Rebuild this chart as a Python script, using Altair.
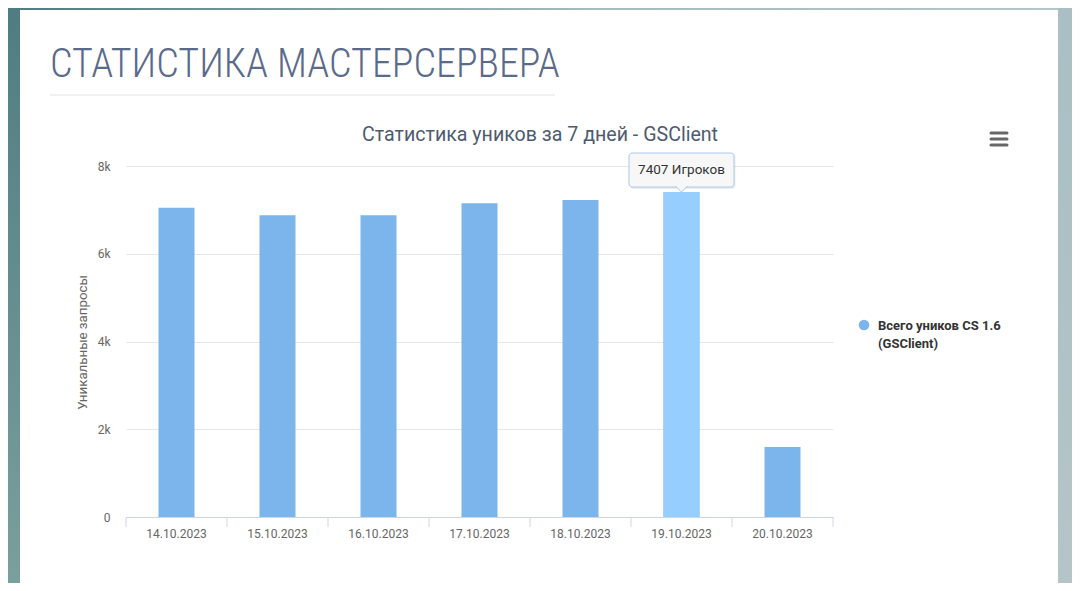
import altair as alt
import pandas as pd

# ---- data ----
dates = ["14.10.2023", "15.10.2023", "16.10.2023", "17.10.2023",
         "18.10.2023", "19.10.2023", "20.10.2023"]
values = [7050, 6880, 6880, 7150, 7225, 7407, 1595]
highlight_date = "19.10.2023"
tooltip_suffix = " Игроков"
y_ticks = [0, 2000, 4000, 6000, 8000]
legend_lines = ["Всего уников CS 1.6", "(GSClient)"]
page_heading = "СТАТИСТИКА МАСТЕРСЕРВЕРА"
chart_title = "Статистика уников за 7 дней - GSClient"
y_title = "Уникальные запросы"

df = pd.DataFrame({"date": dates, "value": values})
one = pd.DataFrame({"k": [0]})

W, H = 707, 351
BAR = "#7cb5ec"
HOVER = "#95ceff"
FONT = "Roboto"

xenc = alt.X("date:N", sort=dates, title=None,
             scale=alt.Scale(paddingInner=0, paddingOuter=0),
             axis=alt.Axis(labelAngle=0, labelColor="#666666", labelFontSize=12,
                           labelFont=FONT, ticks=False, tickSize=0, labelPadding=11,
                           domainColor="#ccd6eb", domainWidth=1, grid=False,
                           zindex=1))
yenc = alt.Y("value:Q", scale=alt.Scale(domain=[0, 8000], nice=False),
             axis=alt.Axis(values=y_ticks,
                           labelExpr="datum.value == 0 ? '0' : (datum.value / 1000) + 'k'",
                           labelColor="#666666",
                           labelFontSize=12, labelFont=FONT, ticks=False,
                           tickSize=0, labelPadding=16, domain=False,
                           grid=True, gridColor="#e6e6e6", gridWidth=1,
                           title=y_title, titleColor="#666666",
                           titleFontSize=13.3, titleFontWeight="normal",
                           titleFont=FONT, titleX=-44, titleY=176,
                           titleAngle=270, titleAlign="center",
                           titleBaseline="middle"))

base = alt.Chart(df)

bars = base.mark_bar(size=36, color=BAR).encode(x=xenc, y=yenc)

hl = base.transform_filter(alt.datum.date == highlight_date)
hl_bar = hl.mark_bar(size=36, color=HOVER).encode(
    x=alt.X("date:N", sort=dates), y="value:Q")

tip_shadow = hl.mark_bar(width=105, color="#000000", opacity=0.07,
                         cornerRadius=3, yOffset=-38, y2Offset=-3, xOffset=1.5
                         ).encode(x=alt.X("date:N", sort=dates), y="value:Q",
                                  y2="value:Q")
tip_box = hl.mark_bar(width=105, fill="#f7f7f7", stroke="#a9c9ea",
                      strokeWidth=1, cornerRadius=3, yOffset=-39, y2Offset=-5,
                      opacity=1).encode(x=alt.X("date:N", sort=dates),
                                        y="value:Q", y2="value:Q")
tip_notch = hl.mark_point(shape="M-1,-0.5L0,0.5L1,-0.5", size=144, filled=True,
                          fill="#f7f7f7", stroke="#a9c9ea", strokeWidth=1,
                          opacity=1, yOffset=-3).encode(
    x=alt.X("date:N", sort=dates), y="value:Q")
tip_text = hl.transform_calculate(
    label="datum.value + '" + tooltip_suffix + "'"
).mark_text(fontSize=13.5, font=FONT, color="#333333", dy=-22,
            baseline="middle").encode(x=alt.X("date:N", sort=dates),
                                      y="value:Q", text="label:N")

# x tick marks at category boundaries
ticks = base.mark_rule(color="#ccd6eb", strokeWidth=1).encode(
    x=alt.X("date:N", sort=dates, bandPosition=0),
    y=alt.value(H), y2=alt.value(H + 10))
end_tick = alt.Chart(one).mark_rule(color="#ccd6eb", strokeWidth=1).encode(
    x=alt.value(W), y=alt.value(H), y2=alt.value(H + 10))

# page decoration: teal gradient border strips
grad_h = alt.LinearGradient(gradient="linear", x1=0, y1=0, x2=1, y2=0,
                            stops=[alt.GradientStop(offset=0, color="#4f7b80"),
                                   alt.GradientStop(offset=0.55, color="#a6bbbe"),
                                   alt.GradientStop(offset=1, color="#b3c6c9")])
grad_l = alt.LinearGradient(gradient="linear", x1=0, y1=0, x2=0, y2=1,
                            stops=[alt.GradientStop(offset=0, color="#507c81"),
                                   alt.GradientStop(offset=1, color="#7a9f9d")])
grad_r = alt.LinearGradient(gradient="linear", x1=0, y1=0, x2=0, y2=1,
                            stops=[alt.GradientStop(offset=0, color="#a9bfc3"),
                                   alt.GradientStop(offset=1, color="#b3c5c7")])
strip_top = alt.Chart(one).mark_rect(color=grad_h).encode(
    x=alt.value(-118), x2=alt.value(946), y=alt.value(-158), y2=alt.value(-156))
strip_left = alt.Chart(one).mark_rect(color=grad_l).encode(
    x=alt.value(-118), x2=alt.value(-106), y=alt.value(-158), y2=alt.value(417))
strip_right = alt.Chart(one).mark_rect(color=grad_r).encode(
    x=alt.value(932), x2=alt.value(946), y=alt.value(-158), y2=alt.value(417))

heading = alt.Chart(one).mark_text(
    text=page_heading,
    font="Roboto Condensed, Liberation Sans Narrow, DejaVu Sans Condensed, Roboto",
    fontSize=40, fontWeight=300, color="#5a6a8a", align="left",
    baseline="alphabetic").encode(x=alt.value(-76), y=alt.value(-89))
separator = alt.Chart(one).mark_rule(color="#ececec", strokeWidth=1.5).encode(
    x=alt.value(-76), x2=alt.value(429), y=alt.value(-71))

title = alt.Chart(one).mark_text(
    text=chart_title, font=FONT, fontSize=19.6, color="#4d5b70", align="center",
    baseline="alphabetic").encode(x=alt.value(414), y=alt.value(-25))

menu = [alt.Chart(one).mark_rule(color="#666666", strokeWidth=3,
                                 strokeCap="round").encode(
    x=alt.value(865), x2=alt.value(881), y=alt.value(yy))
    for yy in (-33, -27, -21)]

legend_dot = alt.Chart(one).mark_point(shape="circle", size=113, filled=True,
                                       color=BAR, opacity=1).encode(
    x=alt.value(738), y=alt.value(159))
legend_text = alt.Chart(one).mark_text(
    text=legend_lines, font=FONT, fontSize=13, fontWeight="bold",
    color="#333333", align="left", baseline="alphabetic", lineHeight=18
).encode(x=alt.value(752), y=alt.value(164))

chart = alt.layer(
    strip_top, strip_left, strip_right, heading, separator, title, *menu,
    bars, hl_bar, ticks, end_tick, tip_shadow, tip_box, tip_notch, tip_text,
    legend_dot, legend_text
).properties(
    width=W, height=H,
    autosize=alt.AutoSizeParams(type="none"),
    padding={"left": 118, "top": 158, "right": 239, "bottom": 66},
    background="#ffffff"
).configure_view(stroke=None)

chart.save("out.html", embed_options={"renderer": "svg", "actions": False})
